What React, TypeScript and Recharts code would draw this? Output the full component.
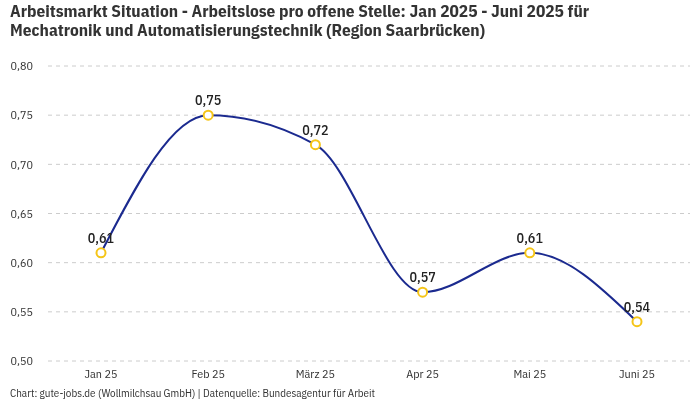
import { CartesianGrid, LabelList, Line, LineChart, XAxis, YAxis } from "recharts";

const months = ["Jan 25", "Feb 25", "März 25", "Apr 25", "Mai 25", "Juni 25"];
const ratio = [0.61, 0.75, 0.72, 0.57, 0.61, 0.54];
const yTicks = [0.5, 0.55, 0.6, 0.65, 0.7, 0.75, 0.8];

const data = months.map((m, i) => ({ month: m, value: ratio[i] }));

const fmt = (v: number) => v.toFixed(2).replace(".", ",");

const font = "'IBM Plex Sans Condensed', 'Liberation Sans Narrow', 'DejaVu Sans Condensed', 'Roboto', sans-serif";

export default function App() {
  return (
    <div style={{ position: "fixed", left: 0, top: 0, width: 700, height: 400, background: "#fff", fontFamily: font }}>
      <div
        style={{
          position: "absolute",
          left: 10,
          top: 1,
          width: 630,
          fontSize: 17.3,
          lineHeight: "19px",
          fontWeight: 700,
          color: "#333",
        }}
      >
        Arbeitsmarkt Situation - Arbeitslose pro offene Stelle: Jan 2025 - Juni 2025 für Mechatronik und Automatisierungstechnik (Region Saarbrücken)
      </div>
      <LineChart
        width={700}
        height={400}
        data={data}
        margin={{ top: 66, right: 10, left: 10, bottom: 9 }}
        style={{ position: "absolute", left: 0, top: 0 }}
      >
        <CartesianGrid vertical={false} stroke="#cccccc" strokeDasharray="4 4" />
        <XAxis
          dataKey="month"
          height={30}
          axisLine={false}
          tickLine={false}
          padding={{ left: 53, right: 53 }}
          tick={{ fill: "#333", fontSize: 12, fontFamily: font }}
        />
        <YAxis
          width={38}
          domain={[0.5, 0.8]}
          ticks={yTicks}
          axisLine={false}
          tickLine={false}
          tickMargin={9}
          tickFormatter={fmt}
          tick={{ fill: "#333", fontSize: 12, fontFamily: font }}
        />
        <Line
          type="monotone"
          dataKey="value"
          stroke="#1b2a8f"
          strokeWidth={2}
          dot={{ r: 4.5, fill: "#fff", stroke: "#f5c518", strokeWidth: 2 }}
          isAnimationActive={false}
        >
          <LabelList
            dataKey="value"
            position="top"
            offset={10}
            formatter={(v: any) => fmt(Number(v))}
            style={{ fill: "#222", fontSize: 14, fontWeight: 500, fontFamily: font }}
          />
        </Line>
      </LineChart>
      <div style={{ position: "absolute", left: 10, top: 386, fontSize: 11, color: "#333" }}>
        Chart: gute-jobs.de (Wollmilchsau GmbH) | Datenquelle: Bundesagentur für Arbeit
      </div>
    </div>
  );
}
